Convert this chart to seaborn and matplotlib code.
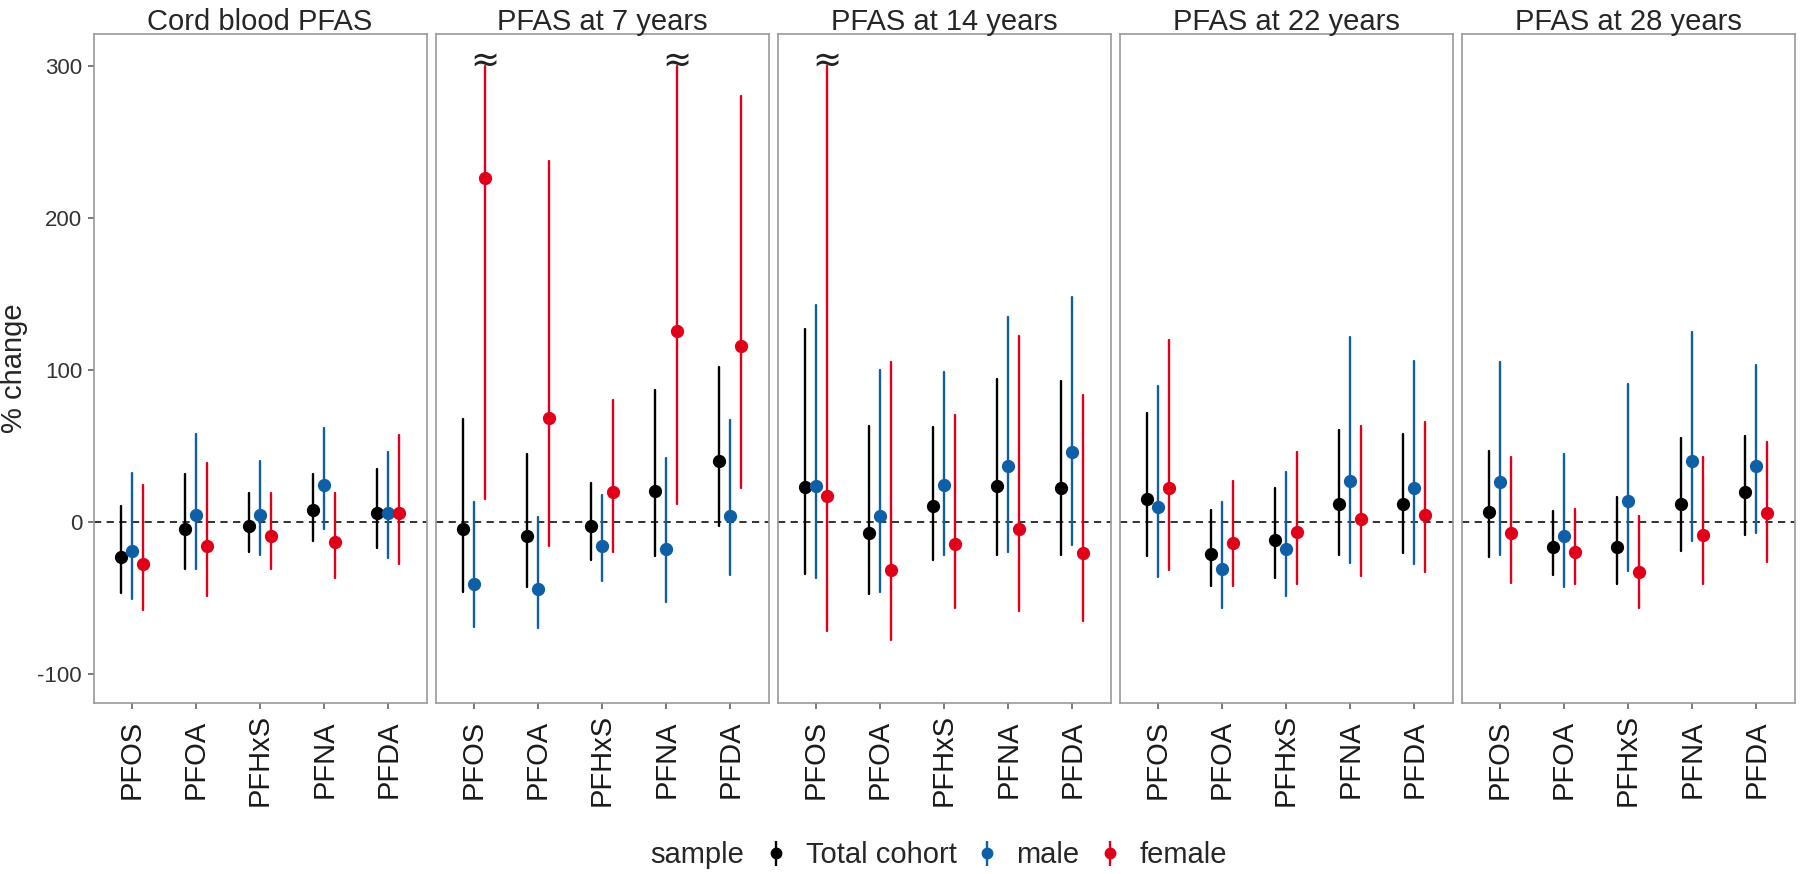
import numpy as np
import pandas as pd
import matplotlib
matplotlib.use("Agg")
import matplotlib.pyplot as plt
from matplotlib.lines import Line2D
from matplotlib.legend_handler import HandlerTuple
import seaborn as sns

panels = ["Cord blood PFAS", "PFAS at 7 years", "PFAS at 14 years",
          "PFAS at 22 years", "PFAS at 28 years"]
pfas = ["PFOS", "PFOA", "PFHxS", "PFNA", "PFDA"]
samples = ["Total cohort", "male", "female"]

# rows = panels, columns = pfas
total_est = [[-23, -4.5, -2.4, 7.5, 6],
             [-4.5, -9, -2.4, 20.5, 40],
             [23, -7.5, 10.5, 23.5, 22.6],
             [15, -21, -12, 12, 12],
             [6.6, -16.6, -16.6, 12, 19.6]]
total_lo = [[-46.7, -31, -20, -12.7, -17.5],
            [-46, -43, -25, -22.6, -3],
            [-34, -47.6, -25, -22, -22],
            [-22.6, -42, -36.8, -22, -20.5],
            [-23, -35, -40.7, -19, -8.4]]
total_hi = [[10.5, 31.7, 18.7, 31.7, 35],
            [68, 44.6, 25.6, 87, 102],
            [126.6, 63, 62.7, 94, 92.6],
            [71.8, 7.5, 22, 60.3, 57.9],
            [46.7, 7, 16.6, 55, 56.7]]

male_est = [[-19, 4.5, 4.5, 24, 6],
            [-41, -44, -15.7, -18, 4],
            [23.5, 3.6, 24, 36.8, 45.8],
            [9.6, -30.7, -18, 27, 22],
            [26, -9, 13.6, 40, 37]]
male_lo = [[-51, -31, -21.7, -4.5, -23.5],
           [-69, -70, -39, -53, -35],
           [-37, -46, -22, -20, -15],
           [-36, -57, -49, -27, -27.7],
           [-22, -42.8, -32.6, -12.7, -7.5]]
male_hi = [[32, 58, 40, 62, 46],
           [13, 3, 18, 42, 67],
           [143, 100, 98.6, 134.8, 148],
           [89.5, 13, 32.6, 121.5, 106],
           [105, 44.6, 91, 125, 103.4]]

female_est = [[-28, -16, -9, -13.5, 6],
              [226, 68.4, 19.6, 125.7, 116],
              [17, -32, -14.5, -4.5, -20.5],
              [22.6, -14, -6.6, 2, 4.5],
              [-7.5, -19.6, -33, -8.4, 6]]
female_lo = [[-58, -49, -31, -37, -28],
             [15, -16, -20, 11.5, 22],
             [-72, -77.5, -56.7, -58.8, -65.4],
             [-32, -42, -40.7, -35.6, -33],
             [-40, -40.7, -56.7, -41, -26.5]]
female_hi = [[24, 38.6, 19, 19, 57],
             [300, 237.6, 80, 300, 280],
             [300, 105, 70, 122, 83.5],
             [119.7, 27, 45.8, 63.3, 65.4],
             [42.8, 8.4, 3.6, 42.8, 52.8]]

# upper limits cut off at 300 (panel, pfas) for females
truncated = [(1, 0), (1, 3), (2, 0)]

colors = {"Total cohort": "#000000", "male": "#0E5FA6", "female": "#E1001A"}
dodge = 0.34

est = {"Total cohort": total_est, "male": male_est, "female": female_est}
lo = {"Total cohort": total_lo, "male": male_lo, "female": female_lo}
hi = {"Total cohort": total_hi, "male": male_hi, "female": female_hi}

# long table: lower / estimate / upper as 3 rows per group,
# so median = estimate and the 100% interval = the CI
rows = []
for i, p in enumerate(panels):
    for j, c in enumerate(pfas):
        for s in samples:
            for v in (lo[s][i][j], est[s][i][j], hi[s][i][j]):
                rows.append({"panel": p, "pfas": c, "sample": s, "value": v})
df = pd.DataFrame(rows)

sns.set_style("white")
plt.rcParams["font.family"] = ["Liberation Sans", "DejaVu Sans"]
plt.rcParams["axes.unicode_minus"] = False

fig, axes = plt.subplots(1, 5, figsize=(18, 8.74), dpi=100, sharey=True)
plt.subplots_adjust(left=0.052, right=0.997, top=0.961, bottom=0.196, wspace=0.027)

for i, (ax, p) in enumerate(zip(axes, panels)):
    sub = df[df["panel"] == p]
    ax.axhline(0, color="#222222", lw=1.3, ls=(0, (4, 3)), zorder=1)
    sns.pointplot(data=sub, x="pfas", y="value", hue="sample", order=pfas,
                  hue_order=samples, palette=colors, estimator="median",
                  errorbar=("pi", 100), dodge=dodge, linestyle="none",
                  markers="o", markersize=7.5, err_kws={"linewidth": 1.7},
                  legend=False, ax=ax)
    ax.set_xlim(-0.6, 4.6)
    ax.set_ylim(-119, 321)
    ax.set_title(p, fontsize=21, pad=3)
    ax.set_xlabel("")
    ax.set_ylabel("")
    for sp in ax.spines.values():
        sp.set_visible(True)
        sp.set_color("#9a9a9a")
        sp.set_linewidth(1.2)
    ax.tick_params(axis="x", labelrotation=90, labelsize=21, length=4.3, width=1.1,
                   pad=36.7, color="#555555", labelcolor="#1a1a1a", bottom=True)
    for lab in ax.get_xticklabels():
        lab.set_verticalalignment("center")
    ax.tick_params(axis="y", labelsize=16, length=4.3, width=1.1, pad=4,
                   color="#555555", labelcolor="#333333", left=(i == 0))
    for (pi, cj) in truncated:
        if pi == i:
            ax.text(cj + dodge / 2, female_hi[pi][cj] + 3, "\u2248",
                    fontsize=25, ha="center", va="center",
                    family="DejaVu Sans", color="#222222")

axes[0].set_yticks([-100, 0, 100, 200, 300])
axes[0].set_ylabel("% change", fontsize=21, labelpad=7)

handles = [(Line2D([], [], marker="|", markersize=18, mew=1.7, ls="none", color=colors[s]),
            Line2D([], [], marker="o", markersize=7.5, ls="none", color=colors[s]))
           for s in samples]
fig.text(0.4133, 0.022, "sample", fontsize=21, ha="right", va="center")
fig.legend(handles, samples, handler_map={tuple: HandlerTuple(ndivide=1)},
           loc="center left", bbox_to_anchor=(0.426, 0.022), ncol=3,
           frameon=False, fontsize=21, handlelength=0.6, handletextpad=0.73,
           columnspacing=0.73, borderaxespad=0, borderpad=0)

fig.savefig("out.png", dpi=100)
